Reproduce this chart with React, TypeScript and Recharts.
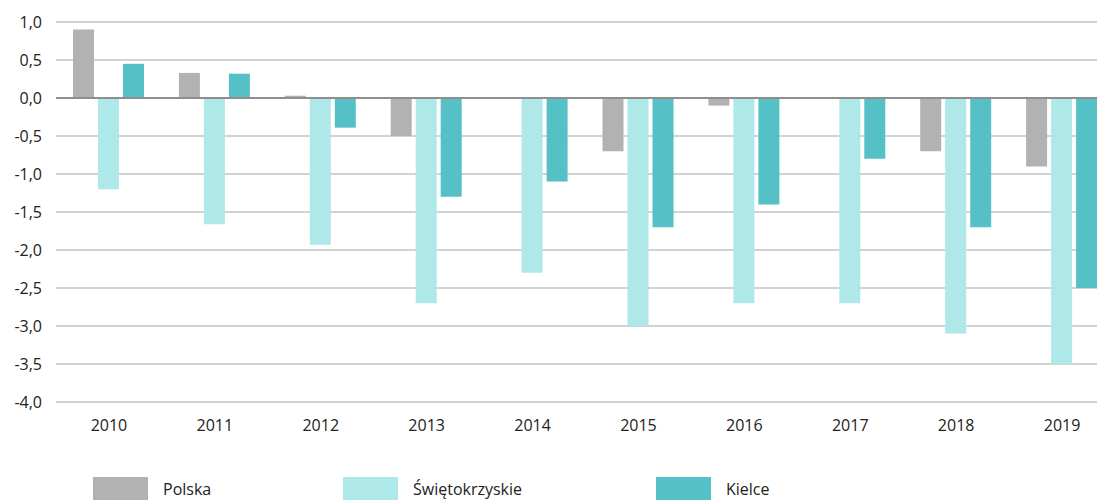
import {
  Bar,
  BarChart,
  CartesianGrid,
  Legend,
  ReferenceLine,
  XAxis,
  YAxis,
} from "recharts";

const YEARS = ["2010", "2011", "2012", "2013", "2014", "2015", "2016", "2017", "2018", "2019"];
const POLSKA = [0.9, 0.33, 0.03, -0.5, 0, -0.7, -0.1, 0, -0.7, -0.9];
const SWIETOKRZYSKIE = [-1.2, -1.66, -1.93, -2.7, -2.3, -3.0, -2.7, -2.7, -3.1, -3.5];
const KIELCE = [0.45, 0.32, -0.39, -1.3, -1.1, -1.7, -1.4, -0.8, -1.7, -2.5];
const Y_TICKS = [1, 0.5, 0, -0.5, -1, -1.5, -2, -2.5, -3, -3.5, -4];

const SERIES = [
  { key: "polska", name: "Polska", color: "#b2b2b2" },
  { key: "swietokrzyskie", name: "Świętokrzyskie", color: "#aee8e8" },
  { key: "kielce", name: "Kielce", color: "#55c0c5" },
];

const data = YEARS.map((year, i) => ({
  year,
  polska: POLSKA[i],
  swietokrzyskie: SWIETOKRZYSKIE[i],
  kielce: KIELCE[i],
}));

const FONT = "'Open Sans', 'Noto Sans', sans-serif";

function LegendContent() {
  const lefts = [93, 343, 656];
  return (
    <div style={{ position: "relative", height: 24, fontFamily: FONT }}>
      {SERIES.map((s, i) => (
        <div
          key={s.key}
          style={{
            position: "absolute",
            left: lefts[i],
            top: 0,
            display: "flex",
            alignItems: "center",
          }}
        >
          <span
            style={{ width: 55, height: 23, background: s.color, display: "inline-block" }}
          />
          <span style={{ marginLeft: 15, fontSize: 16, color: "#222" }}>{s.name}</span>
        </div>
      ))}
    </div>
  );
}

export default function App() {
  return (
    <div
      style={{
        margin: "-8px 0 0 -8px",
        width: 1105,
        height: 501,
        overflow: "hidden",
        background: "#fff",
      }}
    >
      <BarChart
        data={data}
        width={1120}
        height={501}
        margin={{ top: 22, right: 5, bottom: 25, left: 0 }}
        barCategoryGap="16%"
        barGap={4}
      >
        <CartesianGrid vertical={false} stroke="#c4c4c4" strokeWidth={1.5} />
        <XAxis
          dataKey="year"
          axisLine={false}
          tickLine={false}
          tickMargin={12}
          height={50}
          tick={{ fontSize: 16, fill: "#222", fontFamily: FONT }}
        />
        <YAxis
          domain={[-4, 1]}
          ticks={Y_TICKS}
          interval={0}
          width={56}
          axisLine={false}
          tickLine={false}
          tickSize={0}
          tickMargin={14}
          tickFormatter={(v: number) => v.toFixed(1).replace(".", ",")}
          tick={{ fontSize: 16, fill: "#222", fontFamily: FONT }}
        />
        <Legend
          verticalAlign="bottom"
          content={() => <LegendContent />}
          wrapperStyle={{ left: 0, width: 1105, bottom: 0 }}
        />
        {SERIES.map((s) => (
          <Bar
            key={s.key}
            dataKey={s.key}
            name={s.name}
            fill={s.color}
            barSize={21}
            isAnimationActive={false}
          />
        ))}
        <ReferenceLine y={0} stroke="#8e8e8e" strokeWidth={2} />
      </BarChart>
    </div>
  );
}
